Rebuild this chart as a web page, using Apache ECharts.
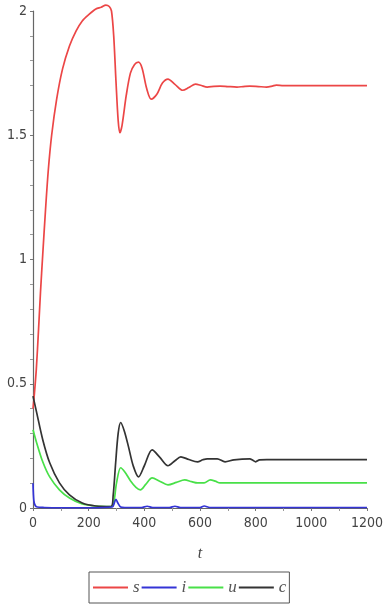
<!DOCTYPE html>
<html>
<head>
<meta charset="utf-8">
<script src="https://cdn.jsdelivr.net/npm/echarts@6/dist/echarts.min.js"></script>
<style>
  html, body { margin: 0; padding: 0; background: #fff; }
  #chart { width: 386px; height: 609px; }
</style>
</head>
<body>
<div id="chart"></div>
<script>
// Time samples and values for each state variable
const sT = [0, 5, 12, 20, 27, 35, 45, 55, 67, 85, 106, 131, 155, 177, 200, 226, 245, 262, 274, 282, 290, 298, 306, 312, 320, 335, 350, 365, 379, 392, 408, 425, 445, 465, 485, 510, 538, 560, 584, 605, 626, 650, 672, 700, 733, 755, 779, 810, 839, 860, 874, 900, 1200];
const sV = [0.40, 0.46, 0.56, 0.72, 0.87, 1.02, 1.20, 1.36, 1.50, 1.645, 1.766, 1.859, 1.92, 1.96, 1.985, 2.008, 2.015, 2.024, 2.018, 2.0, 1.90, 1.72, 1.56, 1.51, 1.54, 1.66, 1.75, 1.785, 1.794, 1.77, 1.69, 1.645, 1.665, 1.71, 1.726, 1.705, 1.681, 1.692, 1.706, 1.70, 1.694, 1.697, 1.698, 1.696, 1.694, 1.696, 1.698, 1.696, 1.694, 1.698, 1.702, 1.70, 1.70];

const iT = [0, 3, 8, 15, 40, 100, 200, 285, 292, 298, 305, 315, 330, 390, 410, 430, 490, 510, 530, 600, 615, 635, 700, 1200];
const iV = [0.10, 0.03, 0.01, 0.004, 0.002, 0.001, 0.001, 0.004, 0.02, 0.035, 0.02, 0.004, 0.002, 0.002, 0.007, 0.002, 0.002, 0.007, 0.002, 0.002, 0.008, 0.002, 0.002, 0.002];

const uT = [0, 13, 35, 60, 95, 131, 177, 226, 280, 290, 300, 315, 330, 350, 370, 386, 405, 428, 455, 485, 515, 545, 570, 591, 615, 637, 655, 672, 700, 1200];
const uV = [0.315, 0.263, 0.186, 0.125, 0.073, 0.040, 0.016, 0.008, 0.006, 0.02, 0.10, 0.162, 0.145, 0.11, 0.083, 0.073, 0.095, 0.121, 0.108, 0.093, 0.103, 0.113, 0.106, 0.101, 0.101, 0.113, 0.108, 0.101, 0.101, 0.101];

const cT = [0, 13, 35, 60, 95, 131, 177, 226, 280, 288, 297, 306, 315, 328, 343, 360, 379, 400, 428, 455, 485, 510, 531, 560, 591, 610, 626, 662, 690, 722, 779, 790, 800, 814, 840, 1200];
const cV = [0.45, 0.385, 0.275, 0.182, 0.101, 0.053, 0.020, 0.008, 0.006, 0.05, 0.182, 0.30, 0.344, 0.31, 0.247, 0.17, 0.125, 0.17, 0.234, 0.205, 0.170, 0.19, 0.206, 0.195, 0.186, 0.194, 0.198, 0.198, 0.186, 0.194, 0.198, 0.192, 0.186, 0.194, 0.195, 0.195];

const names = ['s', 'i', 'u', 'c'];
const colors = ['#ec4646', '#3434d6', '#48e048', '#333333'];
const xTicks = [0, 200, 400, 600, 800, 1000, 1200];
const yTicks = [0, 0.5, 1, 1.5, 2];

const pairs = (t, v) => t.map((x, k) => [x, v[k]]);
const seriesData = [pairs(sT, sV), pairs(iT, iV), pairs(uT, uV), pairs(cT, cV)];

const tickFont = "'DejaVu Sans Condensed','Liberation Sans Narrow','Liberation Sans',sans-serif";

const chart = echarts.init(document.getElementById('chart'), null, { renderer: 'canvas' });
chart.setOption({
  backgroundColor: '#ffffff',
  animation: false,
  grid: { left: 33, right: 14, top: 11, bottom: 101 },
  xAxis: {
    type: 'value',
    min: xTicks[0],
    max: xTicks[xTicks.length - 1],
    interval: 200,
    name: 't',
    nameLocation: 'middle',
    nameGap: 38,
    nameTextStyle: { fontFamily: "'Liberation Serif',serif", fontStyle: 'italic', fontSize: 16, color: '#444' },
    axisLine: { lineStyle: { color: '#666', width: 1.2 } },
    axisTick: { show: true, length: 3, lineStyle: { color: '#777' } },
    minorTick: { show: true, splitNumber: 2, length: 3, lineStyle: { color: '#999' } },
    axisLabel: { fontFamily: tickFont, fontSize: 14, color: '#444', margin: 8, formatter: v => String(v) },
    splitLine: { show: false }
  },
  yAxis: {
    type: 'value',
    min: yTicks[0],
    max: yTicks[yTicks.length - 1],
    interval: 0.5,
    axisLine: { show: true, lineStyle: { color: '#666', width: 1.2 } },
    axisTick: { show: true, length: 3, lineStyle: { color: '#777' } },
    minorTick: { show: true, splitNumber: 5, length: 3, lineStyle: { color: '#999' } },
    axisLabel: { fontFamily: tickFont, fontSize: 14, color: '#444', margin: 6, formatter: v => String(v) },
    splitLine: { show: false }
  },
  legend: {
    data: names.map((n, k) => ({ name: n, itemStyle: { color: colors[k] } })),
    left: 89,
    top: 572,
    itemWidth: 35,
    itemHeight: 2,
    itemGap: 2,
    padding: [7, 3, 7, 4],
    borderColor: '#555',
    borderWidth: 1,
    icon: 'rect',
    textStyle: { fontFamily: "'Liberation Serif',serif", fontStyle: 'italic', fontSize: 17, color: '#555' }
  },
  series: names.map((n, k) => ({
    name: n,
    type: 'line',
    data: seriesData[k],
    showSymbol: false,
    symbol: 'none',
    smooth: 0.3,
    clip: false,
    itemStyle: { color: colors[k] },
    lineStyle: { color: colors[k], width: 1.7 },
    z: k === 1 ? 5 : 3
  }))
});
</script>
</body>
</html>
